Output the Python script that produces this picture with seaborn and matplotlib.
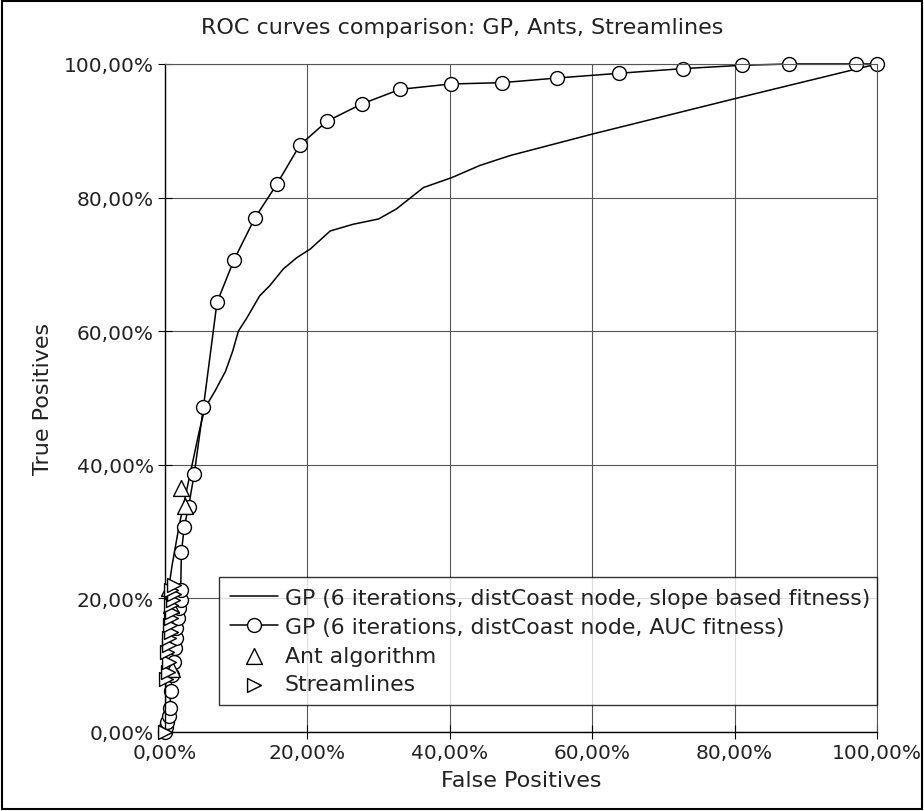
import matplotlib
matplotlib.use('Agg')

import pandas as pd
import matplotlib.pyplot as plt
import seaborn as sns
from matplotlib.ticker import FuncFormatter, MultipleLocator
from matplotlib.patches import Rectangle


# GP, slope based fitness (line only)
slope_fp = [0.0, 0.1, 0.3, 1.0, 2.0, 3.0, 3.8, 4.8, 5.6, 7.0, 8.5, 9.5, 10.3, 11.5,
            13.3, 14.7, 16.6, 18.5, 20.4, 23.2, 26.4, 30.0, 32.5, 36.3, 40.3,
            44.2, 48.5, 60.0, 80.0, 100.0]
slope_tp = [0.0, 10.0, 20.0, 25.0, 31.0, 36.0, 40.0, 45.0, 48.5, 51.0, 54.0, 57.0,
            60.0, 62.0, 65.3, 66.8, 69.3, 71.0, 72.3, 75.0, 76.0, 76.8, 78.3,
            81.5, 83.0, 84.8, 86.3, 89.5, 94.8, 100.0]

# GP, AUC fitness (line + circles)
auc_fp = [0.0, 0.2, 0.3, 0.5, 0.7, 0.8, 1.0, 1.2, 1.4, 1.5, 1.6, 1.8, 2.0, 2.2,
          2.2, 2.3, 2.7, 3.3, 4.1, 5.4, 7.3, 9.7, 12.6, 15.7, 18.9, 22.7, 27.6,
          33.0, 40.1, 47.3, 55.1, 63.7, 72.7, 81.0, 87.7, 97.1, 100.0]
auc_tp = [0.0, 0.8, 1.5, 2.4, 3.6, 6.2, 8.5, 10.5, 12.5, 14.0, 15.5, 17.0, 18.5,
          19.7, 21.3, 26.9, 30.7, 33.7, 38.6, 48.7, 64.3, 70.7, 76.9, 82.0,
          87.8, 91.4, 94.0, 96.2, 97.0, 97.2, 97.9, 98.6, 99.3, 99.8, 100.0,
          100.0, 100.0]

# Ant algorithm
ant_fp = [2.2, 2.8, 0.5, 0.8, 1.0]
ant_tp = [36.5, 33.9, 21.5, 19.0, 9.5]

# Streamlines
stream_fp = [0.0, 0.2, 0.4, 0.5, 0.3, 0.6, 0.5, 0.8, 0.7, 0.9, 1.0, 0.8, 1.1, 1.2, 0.9, 1.3]
stream_tp = [0.0, 8.0, 9.0, 10.5, 12.0, 13.0, 14.0, 15.0, 16.0, 17.0, 18.0, 19.0,
             19.8, 20.6, 21.2, 22.0]

df_slope = pd.DataFrame({'fp': slope_fp, 'tp': slope_tp})
df_auc = pd.DataFrame({'fp': auc_fp, 'tp': auc_tp})
df_ant = pd.DataFrame({'fp': ant_fp, 'tp': ant_tp})
df_stream = pd.DataFrame({'fp': stream_fp, 'tp': stream_tp})

sns.set_style('white')
plt.rcParams['font.family'] = ['DejaVu Sans']

fig = plt.figure(figsize=(9.24, 8.12), dpi=100)
ax = fig.add_axes([0.1786, 0.0973, 0.7706, 0.8227])

sns.lineplot(data=df_slope, x='fp', y='tp', sort=False, estimator=None, ax=ax,
             color='black', lw=1.1,
             label='GP (6 iterations, distCoast node, slope based fitness)')
sns.lineplot(data=df_auc, x='fp', y='tp', sort=False, estimator=None, ax=ax,
             color='black', lw=1.1, marker='o', markersize=10,
             markerfacecolor='white', markeredgecolor='black', markeredgewidth=1.0,
             clip_on=False,
             label='GP (6 iterations, distCoast node, AUC fitness)')
sns.scatterplot(data=df_ant, x='fp', y='tp', ax=ax, marker='^', s=130,
                facecolor='white', edgecolor='black', linewidth=1.0, clip_on=False,
                label='Ant algorithm', zorder=4)
sns.scatterplot(data=df_stream, x='fp', y='tp', ax=ax, marker='>', s=100,
                facecolor='white', edgecolor='black', linewidth=1.0, clip_on=False,
                label='Streamlines', zorder=4)

ax.set_xlim(0, 100)
ax.set_ylim(0, 100)
ax.xaxis.set_major_locator(MultipleLocator(20))
ax.yaxis.set_major_locator(MultipleLocator(20))
pct = FuncFormatter(lambda v, p: ('%.2f%%' % v).replace('.', ','))
ax.xaxis.set_major_formatter(pct)
ax.yaxis.set_major_formatter(pct)

ax.grid(True, color='#555555', lw=0.8)
ax.set_axisbelow(True)
for s in ['top', 'right']:
    ax.spines[s].set_color('#555555')
    ax.spines[s].set_linewidth(0.8)
for s in ['left', 'bottom']:
    ax.spines[s].set_color('black')
    ax.spines[s].set_linewidth(1.0)
ax.tick_params(axis='both', which='major', direction='inout', length=10, width=0.8,
               color='black', labelsize=14.5, labelcolor='#222222', left=True, bottom=True,
               pad=3)

ax.set_xlabel('False Positives', fontsize=16, color='#222222', labelpad=6)
ax.set_ylabel('True Positives', fontsize=16, color='#222222', labelpad=8)
fig.text(0.5, 0.965, 'ROC curves comparison: GP, Ants, Streamlines', ha='center',
         va='center', fontsize=16, color='#222222')

leg = ax.legend(loc='lower left', bbox_to_anchor=(0.076, 0.04, 0.924, 0.194),
                mode='expand', frameon=True, fancybox=False, fontsize=15.8,
                handlelength=2.2, handletextpad=0.3, borderpad=0.5,
                labelspacing=0.4, borderaxespad=0)
leg.get_frame().set_edgecolor('black')
leg.get_frame().set_linewidth(1.0)
for t in leg.get_texts():
    t.set_color('#222222')

fig.patches.append(Rectangle((0.002, 0.002), 0.996, 0.996, transform=fig.transFigure,
                             fill=False, edgecolor='black', lw=1.5))

fig.savefig('out.png', dpi=100)
